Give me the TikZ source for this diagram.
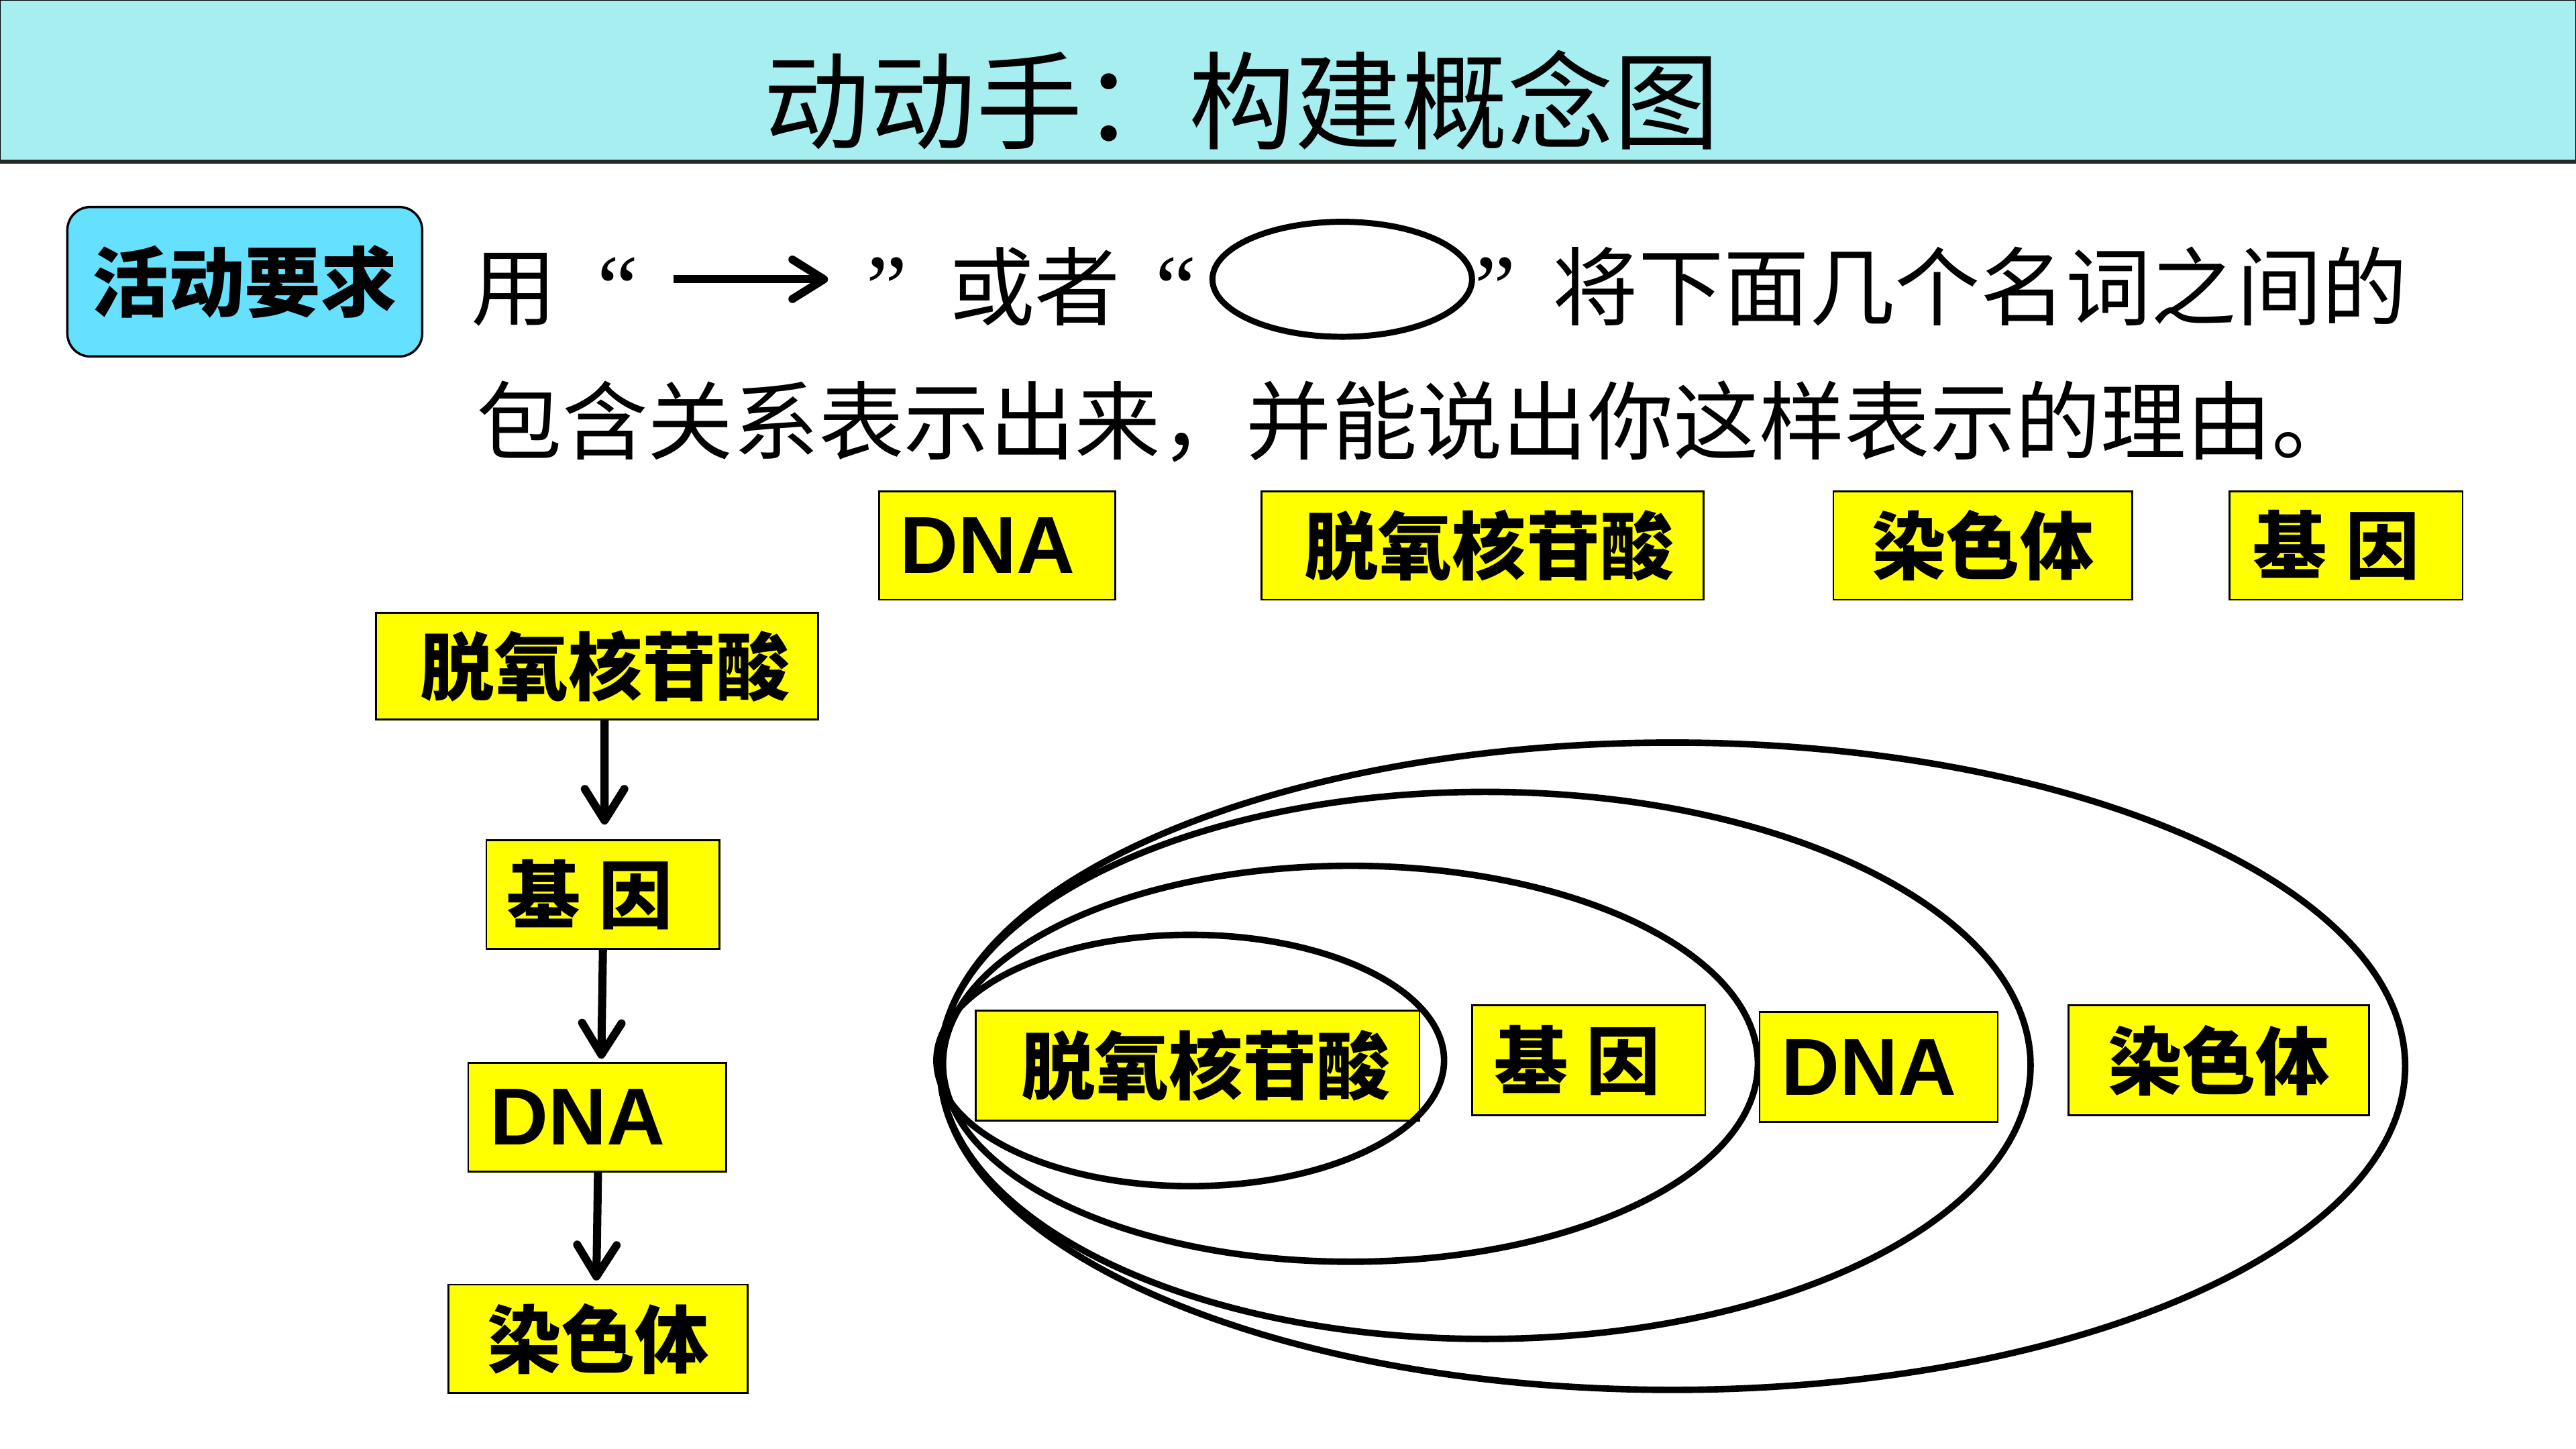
\documentclass[tikz,border=0pt]{standalone}
\usepackage{fontspec}
\setmainfont{Liberation Sans}
\newfontfamily\cjk{Noto Sans CJK SC}
\newfontfamily\qfont{Liberation Serif}
\usetikzlibrary{arrows.meta}
\definecolor{titlecyan}{HTML}{A6EEF0}
\definecolor{reqcyan}{HTML}{66E0FF}
\definecolor{boxyellow}{HTML}{FFFF00}
\tikzset{
  lbl/.style={draw=black, line width=0.8pt, fill=boxyellow, inner sep=0pt, minimum height=66*0.025cm},
  cjkl/.style={font=\cjk\bfseries\fontsize{32}{32}\selectfont},
  dnal/.style={font=\bfseries\fontsize{35}{35}\selectfont},
  instr/.style={font=\cjk\fontsize{37}{37}\selectfont, inner sep=0pt},
  quot/.style={font=\qfont\fontsize{40}{40}\selectfont, inner sep=0pt, anchor=base},
  chain/.style={line width=3.5pt, -{Straight Barb[length=0.48cm, width=0.6cm, line width=3.5pt, round]}},
  ring/.style={draw, line width=2.8pt},
}
\begin{document}
\begin{tikzpicture}[x=0.025cm, y=-0.025cm]
\useasboundingbox (0,0) rectangle (1568,882);
% title bar
\path[fill=titlecyan, draw=black, line width=0.8pt] (0,0) rectangle (1568,98);
\draw[line width=1.6pt, black!85] (0,98.5) -- (1568,98.5);
\node[font=\cjk\fontsize{46}{46}\selectfont, inner sep=0pt, anchor=base] (title) at (756,86) {动动手：构建概念图};
% requirement tag
\node[draw=black, line width=1pt, fill=reqcyan, rounded corners=0.35cm, minimum width=216*0.025cm, minimum height=91*0.025cm, inner sep=0pt, font=\cjk\bfseries\fontsize{33}{33}\selectfont] (req) at (149,171.5) {活动要求};
% instruction line 1
\node[instr, anchor=base] (yong) at (313,194) {用};
\node[quot] (q1) at (376,194) {“};
\coordinate (arS) at (410,170);
\coordinate (arE) at (504,170);
\draw[chain] (arS) -- (arE);
\node[quot] (q2) at (540,194) {”};
\node[instr, anchor=base] (huozhe) at (630,194) {或者};
\node[quot] (q3) at (716,194) {“};
\draw[line width=2.6pt] (817,170) ellipse [x radius=79*0.025cm, y radius=35*0.025cm];
\node[quot] (q4) at (910,194) {”};
\node[instr, anchor=base west] (line1) at (945,194) {将下面几个名词之间的};
% instruction line 2
\node[instr, anchor=base west] (line2) at (290,276) {包含关系表示出来，并能说出你这样表示的理由。};
% top row
\node[lbl, dnal, minimum width=144*0.025cm] (tDNA) at (607,332) {DNA\kern0.3cm};
\node[lbl, cjkl, minimum width=269*0.025cm] (tTuo) at (902.5,332) {\kern0.2cm脱氧核苷酸};
\node[lbl, cjkl, minimum width=182*0.025cm] (tRan) at (1207,332) {染色体};
\node[lbl, cjkl, minimum width=142*0.025cm] (tJi) at (1428,332) {基\kern0.25em因\kern0.3cm};
% left chain
\node[lbl, cjkl, minimum width=269*0.025cm, minimum height=65*0.025cm] (cTuo) at (363.5,405.5) {\kern0.25cm脱氧核苷酸};
\node[lbl, cjkl, minimum width=142*0.025cm] (cJi) at (367,544.5) {基\kern0.25em因\kern0.4cm};
\node[lbl, dnal, minimum width=157*0.025cm] (cDNA) at (363.5,680) {DNA\kern0.6cm};
\node[lbl, cjkl, minimum width=182*0.025cm] (cRan) at (364,815) {染色体};
\draw[chain] ([xshift=4.5*0.025cm]cTuo.south) -- ([xshift=1*0.025cm, yshift=9*0.025cm]cJi.north);
\draw[chain] (cJi.south) -- ([xshift=2.5*0.025cm, yshift=2*0.025cm]cDNA.north);
\draw[chain] ([xshift=0.5*0.025cm]cDNA.south) -- ([xshift=-1*0.025cm, yshift=2*0.025cm]cRan.north);
% nested ellipses
\draw[ring] (1018,649) ellipse [x radius=446*0.025cm, y radius=197*0.025cm];
\draw[ring] (904,648.5) ellipse [x radius=332*0.025cm, y radius=166.5*0.025cm];
\draw[ring] (822,647.5) ellipse [x radius=248*0.025cm, y radius=120.5*0.025cm];
% inner boxes
\node[lbl, cjkl, minimum width=270*0.025cm, minimum height=67*0.025cm] (rTuo) at (729,648.5) {\kern0.25cm脱氧核苷酸};
\node[lbl, cjkl, minimum width=142*0.025cm, minimum height=67*0.025cm] (rJi) at (967,645.5) {基\kern0.25em因\kern0.35cm};
\node[lbl, dnal, minimum width=145*0.025cm, minimum height=67*0.025cm] (rDNA) at (1143.5,649.5) {DNA\kern0.3cm};
\node[lbl, cjkl, minimum width=183*0.025cm, minimum height=67*0.025cm] (rRan) at (1350.5,645.5) {染色体};
\draw[ring] (724.5,645.5) ellipse [x radius=154.5*0.025cm, y radius=76.5*0.025cm];
\end{tikzpicture}
\end{document}
